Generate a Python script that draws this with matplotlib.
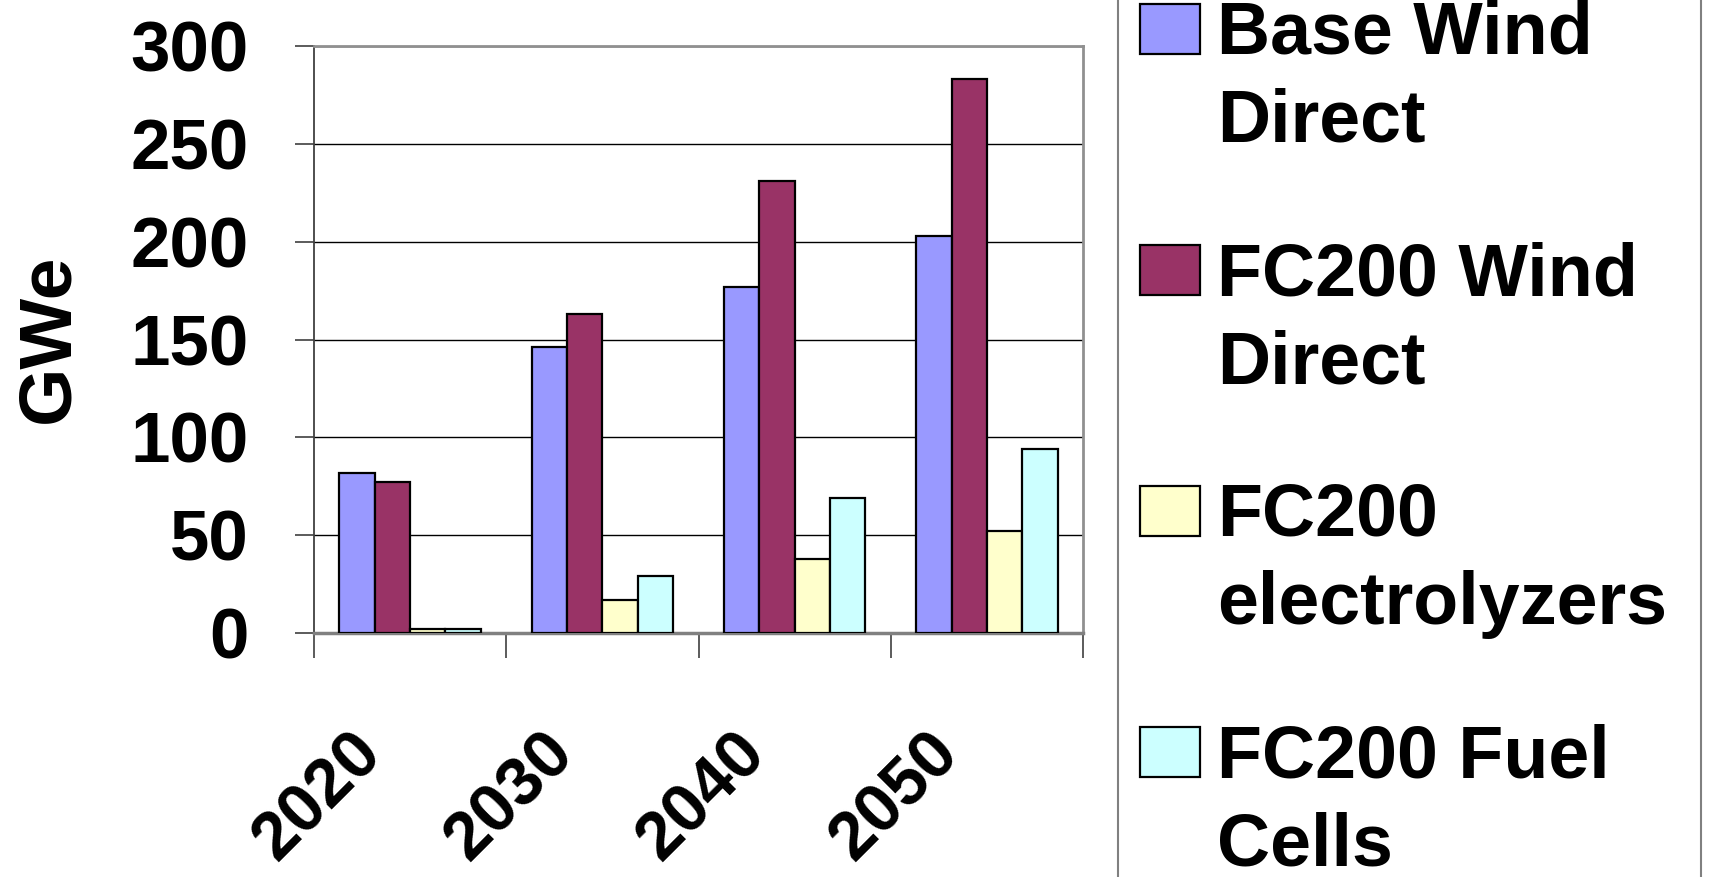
import numpy as np
import matplotlib
matplotlib.use('Agg')
import matplotlib.pyplot as plt
from matplotlib.patches import Rectangle
from matplotlib.transforms import ScaledTranslation

# data
years = ['2020', '2030', '2040', '2050']
series_names = ['Base Wind\nDirect', 'FC200 Wind\nDirect', 'FC200\nelectrolyzers', 'FC200 Fuel\nCells']
base_wind = [82, 146, 177, 203]
fc200_wind = [77, 163, 231, 283]
fc200_elec = [2, 17, 38, 52]
fc200_fc = [2, 29, 69, 94]
colors = ['#9999FF', '#993366', '#FFFFCC', '#CCFFFF']

plt.rcParams['font.family'] = ['Liberation Sans', 'DejaVu Sans']
plt.rcParams['font.weight'] = 'bold'

W, H = 1711, 877
fig = plt.figure(figsize=(W / 100, H / 100), dpi=100)
ax = fig.add_axes([314 / W, 1 - 633 / H, (1083 - 314) / W, (633 - 46) / H])

x = np.arange(len(years))
bw = 0.184
for i, vals in enumerate([base_wind, fc200_wind, fc200_elec, fc200_fc]):
    ax.bar(x + (i - 1.5) * bw, vals, width=bw, color=colors[i],
           edgecolor='black', linewidth=1.6, zorder=3)

ax.set_xlim(-0.5, len(years) - 0.5)
ax.set_ylim(0, 300)
ax.set_yticks(np.arange(0, 301, 50))
ax.yaxis.grid(True, color='black', linewidth=1.0, zorder=0)
ax.tick_params(axis='y', labelsize=51, length=14, width=1.2, color='#404040', pad=33)
for lab in ax.get_yticklabels():
    lab.set_fontweight('bold')

# category ticks at boundaries, labels at centres
ax.set_xticks(np.arange(-0.5, len(years), 1.0), minor=True)
ax.set_xticks(x)
ax.set_xticklabels(years, rotation=45, ha='right', va='top', fontsize=49, fontweight='bold')
ax.tick_params(axis='x', which='major', length=0, pad=63)
ax.tick_params(axis='x', which='minor', length=18, width=1.2, color='#404040')
shift = ScaledTranslation(-0.16, 0, fig.dpi_scale_trans)
for lab in ax.get_xticklabels():
    lab.set_transform(lab.get_transform() + shift)

ax.spines['left'].set_color('#404040')
ax.spines['left'].set_linewidth(1.3)
ax.spines['bottom'].set_color('#808080')
ax.spines['bottom'].set_linewidth(2.5)
ax.spines['top'].set_color('#909090')
ax.spines['top'].set_linewidth(2)
ax.spines['right'].set_color('#909090')
ax.spines['right'].set_linewidth(2)

fig.text(49 / W, 1 - 338 / H, 'GWe', rotation=90, ha='center', va='center',
         fontsize=54, fontweight='bold')

# legend box (runs off the top and bottom of the figure)
fig.patches.append(Rectangle((1118 / W, -0.05), (1701 - 1118) / W, 1.1,
                             transform=fig.transFigure, fill=False,
                             edgecolor='#808080', linewidth=1.5))
for i, name in enumerate(series_names):
    top = 4 + i * 241
    fig.patches.append(Rectangle((1140 / W, 1 - (top + 50) / H), 60 / W, 50 / H,
                                 transform=fig.transFigure, facecolor=colors[i],
                                 edgecolor='black', linewidth=1.6))
    for j, line in enumerate(name.split('\n')):
        fig.text(1217 / W, 1 - (top + 50 + j * 88) / H, line, ha='left',
                 va='baseline', fontsize=53, fontweight='bold')

fig.savefig('out.png', dpi=100)
